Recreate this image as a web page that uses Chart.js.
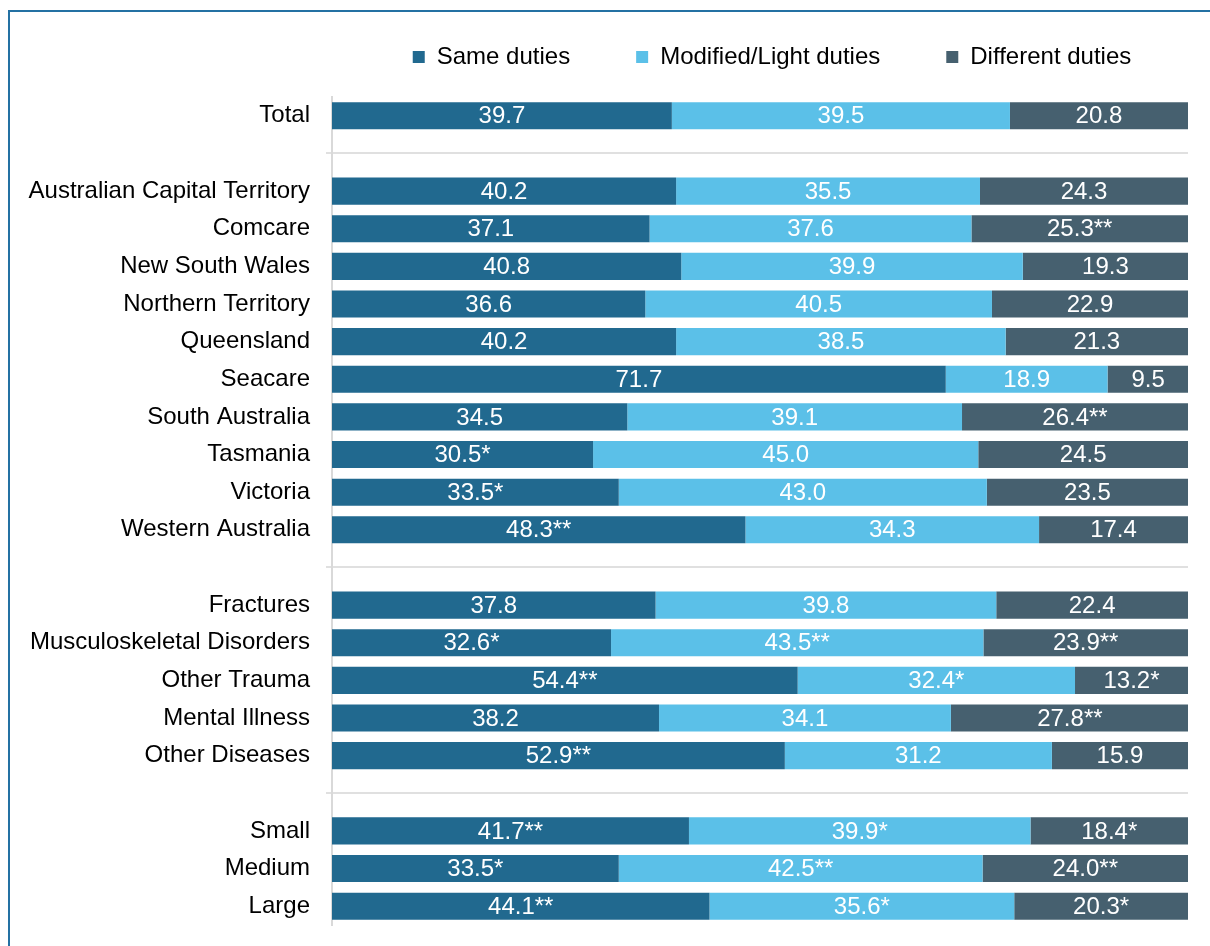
<!DOCTYPE html>
<html>
<head>
<meta charset="utf-8">
<script src="https://cdn.jsdelivr.net/npm/chart.js@4/dist/chart.umd.min.js"></script>
<style>
  html, body { margin: 0; padding: 0; background: #fff; }
  #wrap { position: relative; width: 1210px; height: 946px; overflow: hidden; }
  #frame { position: absolute; left: 8px; top: 10px; right: -4px; bottom: -4px;
           border-top: 2px solid #2471A3; border-left: 2px solid #2471A3; }
  canvas { position: absolute; left: 0; top: 0; }
</style>
</head>
<body>
<div id="wrap">
  <div id="frame"></div>
  <canvas id="chart" width="1210" height="946"></canvas>
</div>
<script>
/* ── Data ── */
const categories = [
  'Total', '',
  'Australian Capital Territory', 'Comcare', 'New South Wales', 'Northern Territory',
  'Queensland', 'Seacare', 'South Australia', 'Tasmania', 'Victoria', 'Western Australia', '',
  'Fractures', 'Musculoskeletal Disorders', 'Other Trauma', 'Mental Illness', 'Other Diseases', '',
  'Small', 'Medium', 'Large'
];
const seriesNames = ['Same duties', 'Modified/Light duties', 'Different duties'];

const sameDuties      = [39.7, null, 40.2, 37.1, 40.8, 36.6, 40.2, 71.7, 34.5, 30.5, 33.5, 48.3, null, 37.8, 32.6, 54.4, 38.2, 52.9, null, 41.7, 33.5, 44.1];
const modifiedDuties  = [39.5, null, 35.5, 37.6, 39.9, 40.5, 38.5, 18.9, 39.1, 45.0, 43.0, 34.3, null, 39.8, 43.5, 32.4, 34.1, 31.2, null, 39.9, 42.5, 35.6];
const differentDuties = [20.8, null, 24.3, 25.3, 19.3, 22.9, 21.3,  9.5, 26.4, 24.5, 23.5, 17.4, null, 22.4, 23.9, 13.2, 27.8, 15.9, null, 18.4, 24.0, 20.3];

// significance markers printed after each value
const sameSig      = ['', '', '', '', '', '', '', '', '', '*', '*', '**', '', '', '*', '**', '', '**', '', '**', '*', '**'];
const modifiedSig  = ['', '', '', '', '', '', '', '', '', '', '', '', '', '', '**', '*', '', '', '', '*', '**', '*'];
const differentSig = ['', '', '', '**', '', '', '', '', '**', '', '', '', '', '', '**', '*', '**', '', '', '*', '**', '*'];

const colors = ['#21698F', '#5BC0E8', '#46606F'];
const FONT = 'Arial, "Liberation Sans", sans-serif';
const FS = 24;

/* ── Value labels inside each segment ── */
const barLabels = {
  id: 'barLabels',
  afterDatasetsDraw(chart) {
    const { ctx } = chart;
    ctx.save();
    ctx.font = FS + 'px ' + FONT;
    ctx.fillStyle = '#ffffff';
    ctx.textAlign = 'center';
    ctx.textBaseline = 'middle';
    chart.data.datasets.forEach((ds, di) => {
      chart.getDatasetMeta(di).data.forEach((bar, i) => {
        const v = ds.data[i];
        if (v == null) return;
        const x = (bar.x + bar.base) / 2;
        ctx.fillText(v.toFixed(1) + ds.sig[i], x, bar.y + 1);
      });
    });
    ctx.restore();
  }
};

/* ── Move the legend to where the original sits ── */
const legendPlace = {
  id: 'legendPlace',
  afterLayout(chart) {
    const lg = chart.legend;
    lg.left = 334;
    lg.right = 1210;
    lg.top = -21;
  }
};

new Chart(document.getElementById('chart'), {
  type: 'bar',
  data: {
    labels: categories,
    datasets: [
      { label: seriesNames[0], data: sameDuties, sig: sameSig, backgroundColor: colors[0] },
      { label: seriesNames[1], data: modifiedDuties, sig: modifiedSig, backgroundColor: colors[1] },
      { label: seriesNames[2], data: differentDuties, sig: differentSig, backgroundColor: colors[2] }
    ]
  },
  options: {
    indexAxis: 'y',
    responsive: false,
    animation: false,
    barPercentage: 0.72,
    categoryPercentage: 1,
    layout: { padding: { top: -3, right: 22, bottom: 21, left: 0 } },
    scales: {
      x: { stacked: true, min: 0, max: 100, display: false },
      y: {
        stacked: true,
        afterFit: (s) => { s.width = 332; s.paddingTop = 0; s.paddingBottom = 0; },
        border: { display: true, color: '#d9d9d9', width: 2 },
        grid: {
          offset: false,
          drawTicks: true,
          tickLength: 6,
          lineWidth: 2,
          color: (c) => (c.tick && c.tick.label === '') ? '#e0e0e0' : 'rgba(0,0,0,0)'
        },
        ticks: {
          autoSkip: false,
          padding: 16,
          color: '#000000',
          font: { family: FONT, size: FS }
        }
      }
    },
    plugins: {
      legend: {
        position: 'top',
        align: 'center',
        labels: {
          boxWidth: 12,
          boxHeight: 12,
          padding: 66,
          color: '#000000',
          font: { family: FONT, size: FS }
        }
      },
      tooltip: { enabled: false }
    }
  },
  plugins: [barLabels, legendPlace]
});
</script>
</body>
</html>
